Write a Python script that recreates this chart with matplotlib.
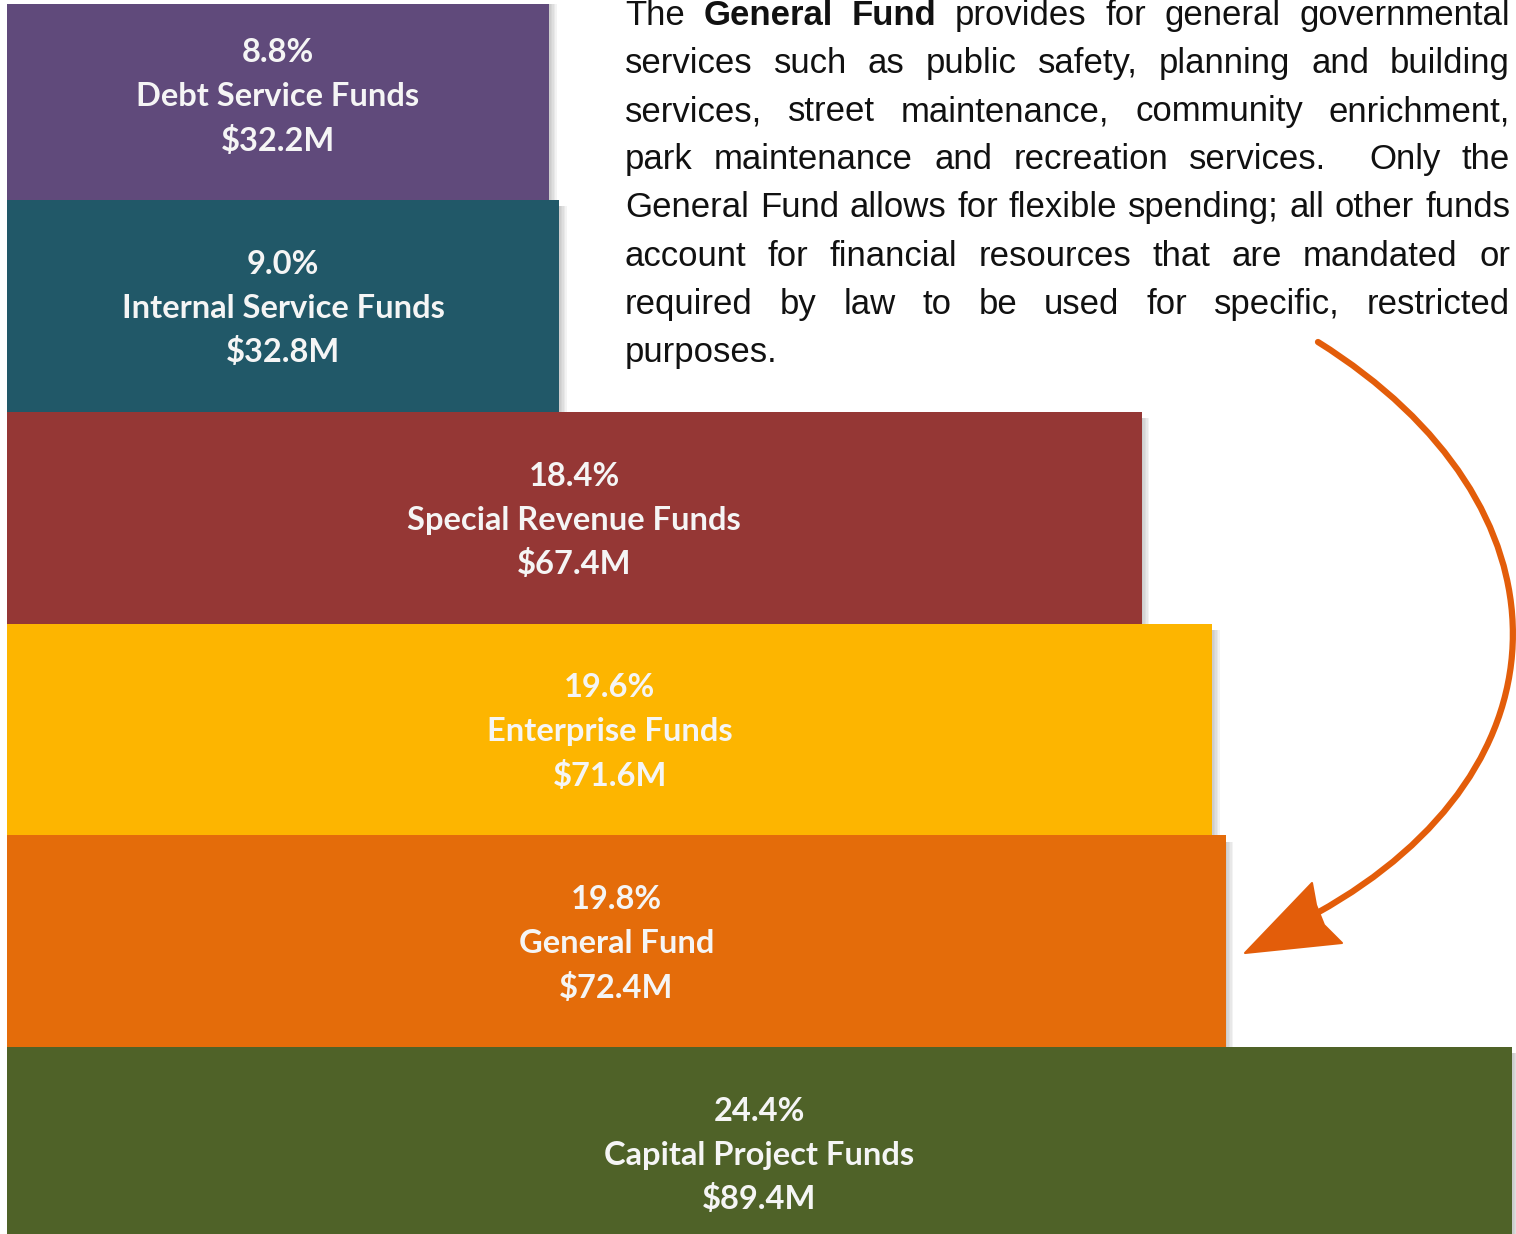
import matplotlib
matplotlib.use("Agg")
import matplotlib.pyplot as plt
from matplotlib.path import Path
from matplotlib.patches import PathPatch, Polygon

# fund data, bottom bar first
funds = ["Capital Project Funds", "General Fund", "Enterprise Funds",
         "Special Revenue Funds", "Internal Service Funds", "Debt Service Funds"]
amounts = [89.4, 72.4, 71.6, 67.4, 32.8, 32.2]  # $M
shares = [24.4, 19.8, 19.6, 18.4, 9.0, 8.8]      # percent
colors = ["#4F6228", "#E46C0A", "#FDB500", "#953735", "#215868", "#604A7B"]

para_lines = [
    "The **General **Fund provides for general governmental",
    "services such as public safety, planning and building",
    "services, street maintenance, community enrichment,",
    "park maintenance and recreation services.  Only the",
    "General Fund allows for flexible spending; all other funds",
    "account for financial resources that are mandated or",
    "required by law to be used for specific, restricted",
    "purposes.",
]

W, H = 1516, 1234
fig = plt.figure(figsize=(W / 100, H / 100), dpi=100)

# bar axes: x in $M, y = bar index
ax = fig.add_axes([0, 0, 1, 1230 / H])
px_per_unit = 1505 / 89.4
ax.set_xlim(-7 / px_per_unit, (W - 7) / px_per_unit)
ax.set_ylim(-0.383, 5.426)
ax.axis("off")

ypos = list(range(len(funds)))
# soft shadow on right side
for k in range(1, 6):
    ax.barh([y - 0.015 for y in ypos], [k * 1.5 / px_per_unit] * len(ypos), left=amounts,
            height=0.97, color="#808080", alpha=0.09, linewidth=0, zorder=1)
ax.barh(ypos, amounts, height=1.0, color=colors, linewidth=0, zorder=2)

dy = 44 / 211.75
for y, name, amt, pct in zip(ypos, funds, amounts, shares):
    cx = amt / 2
    kw = dict(ha="center", va="center", color="#F5F5F5", fontsize=23.5,
              fontweight="bold", family="Lato", zorder=3)
    ax.text(cx, y + dy - 0.012, f"{pct:.1f}%", **kw)
    ax.text(cx, y - 0.012, name, **kw)
    ax.text(cx, y - dy - 0.012, f"${amt:.1f}M", **kw)

# overlay axes in pixel coordinates for paragraph and arrow
ov = fig.add_axes([0, 0, 1, 1], facecolor="none")
ov.set_xlim(0, W)
ov.set_ylim(H, 0)
ov.axis("off")

renderer = fig.canvas.get_renderer()
fs = 25
x0, x1 = 625, 1510
base0, step = 25, 48.1
for i, line in enumerate(para_lines):
    words = line.split(" ")
    arts = []
    for w in words:
        bold = w.startswith("**")
        txt = w.replace("**", "")
        t = ov.text(0, base0 + i * step, txt, fontsize=fs, family="Liberation Sans",
                    fontweight="bold" if bold else "normal", color="#111111",
                    ha="left", va="baseline")
        arts.append(t)
    widths = [t.get_window_extent(renderer).width if t.get_text() else 0 for t in arts]
    if i == len(para_lines) - 1:
        gap = fs * 0.278 * 100 / 72
    else:
        gap = (x1 - x0 - sum(widths)) / (len(arts) - 1)
    x = x0
    for t, w in zip(arts, widths):
        t.set_x(x)
        x += w + gap

# curved arrow
arrow_col = "#E35D0A"
p0, c1, c2, p3 = (1318, 342), (1578, 505), (1578, 768), (1317, 913)
curve = Path([p0, c1, c2, p3], [Path.MOVETO, Path.CURVE4, Path.CURVE4, Path.CURVE4])
ov.add_patch(PathPatch(curve, fill=False, edgecolor=arrow_col, linewidth=4.5,
                       capstyle="round"))
head = [(1245, 953), (1312, 883), (1316, 905), (1324, 925), (1342, 943)]
ov.add_patch(Polygon(head, closed=True, facecolor=arrow_col, edgecolor=arrow_col,
                     linewidth=1.5, joinstyle="round"))

fig.savefig("out.png", dpi=100, facecolor="white")
